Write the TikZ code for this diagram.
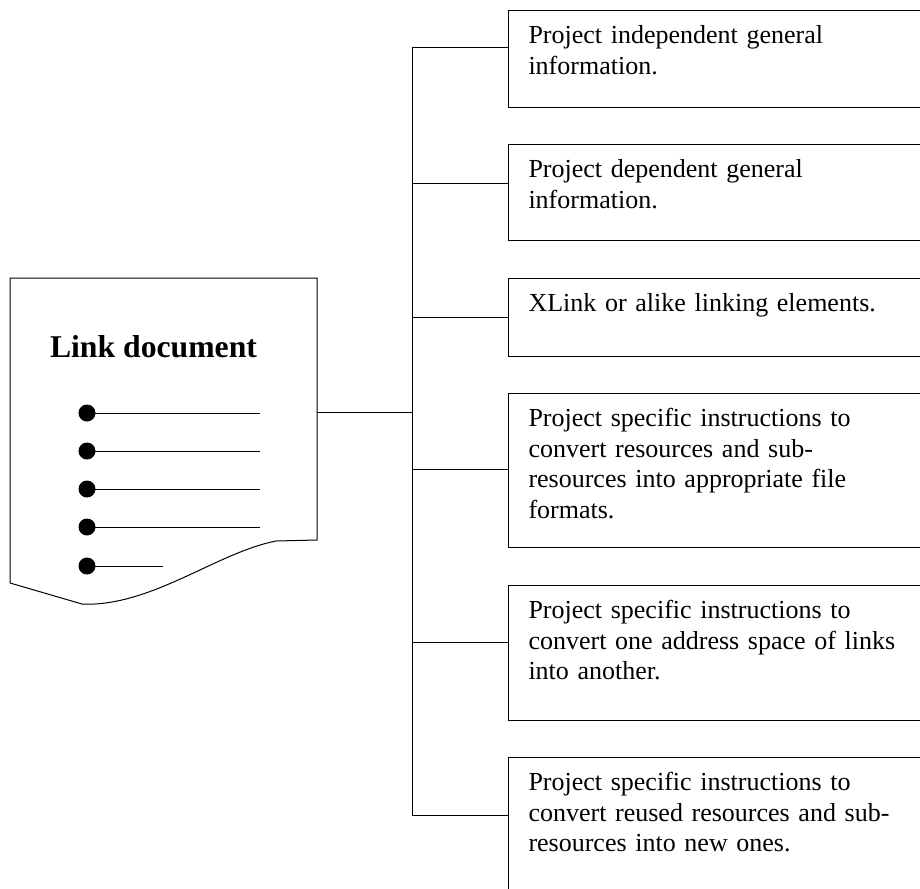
\documentclass[tikz,border=0pt]{standalone}
\usepackage{fontspec}
\setmainfont{Liberation Serif}
\usepackage{tikz}

\begin{document}
\begin{tikzpicture}[x=1pt, y=-1pt, line width=1pt,
  box/.style={draw, anchor=north west, text width=400pt, inner xsep=20pt, inner ysep=0pt,
              text height=33pt, align=left, font=\fontsize{26}{30.6}\selectfont},
  bullet/.style={circle, fill, inner sep=0pt, minimum size=17pt}
]
  \clip (0,0) rectangle (920,888);

  % Link document
  \draw (10,278) -- (317,278) -- (317,540) -- (276,541)
        .. controls (220,552) and (160,600) .. (95,604) -- (82,604) -- (10,583) -- cycle;
  \node[font=\fontsize{31.7}{36}\selectfont\bfseries, anchor=base] (title) at (153.5,357) {Link document};
  \foreach \y/\len [count=\i] in {413/260,451/260,489/260,527/260,566/163} {
    \node[bullet] (dot\i) at (87,\y) {};
    \draw (dot\i.center) -- (\len,\y);
  }

  % Boxes
  \node[box, text depth=64pt]  (gen1)  at (508,10)  {Project independent general\\information.};
  \node[box, text depth=63pt]  (gen2)  at (508,144) {Project dependent general\\information.};
  \node[box, text depth=45pt]  (xlink) at (508,278) {XLink or alike linking elements.};
  \node[box, text depth=121pt] (conv)  at (508,393) {Project specific instructions to\\convert resources and sub-\\resources into appropriate file\\formats.};
  \node[box, text depth=102pt] (addr)  at (508,585) {Project specific instructions to\\convert one address space of links\\into another.};
  \node[box, text depth=117pt] (reuse) at (508,757) {Project specific instructions to\\convert reused resources and sub-\\resources into new ones.};

  % Connectors
  \coordinate (docR) at (317,412);
  \coordinate (hub)  at (412,412);
  \draw (docR) -- (hub);
  \foreach \b/\d in {gen1/38, gen2/39, xlink/39, conv/76, addr/57, reuse/58}
    \draw (hub) |- ([yshift={-\d pt}]\b.north west);
\end{tikzpicture}
\end{document}
